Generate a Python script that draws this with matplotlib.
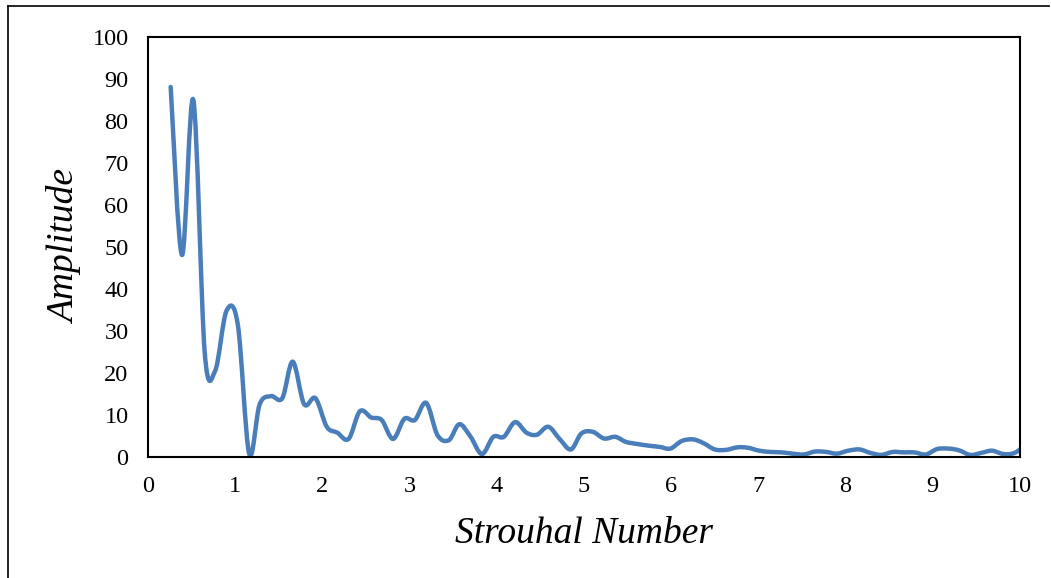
import matplotlib
matplotlib.use("Agg")
from matplotlib import pyplot as plt
from matplotlib.path import Path
from matplotlib.patches import PathPatch
from matplotlib.lines import Line2D
import numpy as np

# Strouhal number bins and spectral amplitude
strouhal = [0.26, 0.39, 0.52, 0.65, 0.77, 0.90, 1.03, 1.16, 1.28, 1.41,
            1.54, 1.66, 1.79, 1.92, 2.05, 2.17, 2.30, 2.43, 2.56, 2.68,
            2.81, 2.94, 3.06, 3.19, 3.32, 3.45, 3.57, 3.70, 3.83, 3.96,
            4.08, 4.21, 4.34, 4.46, 4.59, 4.72, 4.85, 4.97, 5.10, 5.23,
            5.36, 5.48, 5.61, 5.74, 5.87, 5.99, 6.12, 6.25, 6.37, 6.50,
            6.63, 6.76, 6.88, 7.01, 7.14, 7.27, 7.39, 7.52, 7.65, 7.78,
            7.90, 8.03, 8.16, 8.28, 8.41, 8.54, 8.67, 8.79, 8.92, 9.05,
            9.18, 9.30, 9.43, 9.56, 9.68, 9.81, 9.94, 10.07]
amplitude = [88.1, 48.1, 85.0, 25.0, 20.5, 34.8, 31.5, 0.8, 12.5, 14.5,
             14.0, 22.7, 12.6, 14.0, 7.2, 5.8, 4.3, 10.9, 9.4, 8.8,
             4.3, 9.1, 8.8, 12.9, 5.2, 4.0, 7.8, 4.8, 0.7, 4.8,
             4.8, 8.3, 5.8, 5.3, 7.2, 4.3, 1.8, 5.6, 6.0, 4.4,
             4.8, 3.6, 3.1, 2.7, 2.4, 2.0, 3.8, 4.2, 3.3, 1.8,
             1.7, 2.3, 2.2, 1.5, 1.2, 1.1, 0.8, 0.6, 1.3, 1.2,
             0.8, 1.5, 1.8, 1.0, 0.5, 1.2, 1.1, 1.1, 0.6, 1.9,
             2.0, 1.6, 0.5, 1.0, 1.5, 0.7, 1.0, 3.0]

x_ticks = [0, 1, 2, 3, 4, 5, 6, 7, 8, 9, 10]
y_ticks = [0, 10, 20, 30, 40, 50, 60, 70, 80, 90, 100]


def smooth_path(xs, ys):
    # cubic bezier through every point, like a spreadsheet "smoothed line"
    p = np.column_stack([xs, ys])
    n = len(p)
    verts = [p[0]]
    codes = [Path.MOVETO]
    for i in range(n - 1):
        p0 = p[i - 1] if i > 0 else p[i]
        p3 = p[i + 2] if i + 2 < n else p[i + 1]
        c1 = p[i] + (p[i + 1] - p0) / 6.0
        c2 = p[i + 1] - (p3 - p[i]) / 6.0
        verts += [c1, c2, p[i + 1]]
        codes += [Path.CURVE4] * 3
    return Path(verts, codes)


plt.rcParams["font.family"] = "Liberation Serif"

fig = plt.figure(figsize=(10.51, 5.78), dpi=100)
ax = fig.add_axes([148 / 1051, 1 - 457 / 578, 872 / 1051, 420 / 578])

line = PathPatch(smooth_path(strouhal, amplitude), facecolor="none",
                 edgecolor="#4a7ebb", linewidth=3.2, capstyle="round",
                 joinstyle="round")
ax.add_patch(line)

ax.set_xlim(0, 10)
ax.set_ylim(0, 100)
ax.set_xticks(x_ticks)
ax.set_yticks(y_ticks)
ax.tick_params(length=0, labelsize=17.5, pad=14)

for s in ax.spines.values():
    s.set_linewidth(1.5)
    s.set_color("black")

ax.set_xlabel("Strouhal Number", fontsize=27, style="italic", labelpad=14)
ax.set_ylabel("Amplitude", fontsize=27, style="italic", labelpad=7)

# outer frame, top and left edges only
fig.add_artist(Line2D([8 / 1051, 1049 / 1051], [1 - 6 / 578, 1 - 6 / 578],
                      color="black", linewidth=1.2))
fig.add_artist(Line2D([8 / 1051, 8 / 1051], [0, 1 - 6 / 578],
                      color="black", linewidth=1.2))

fig.savefig("out.png", dpi=100)
